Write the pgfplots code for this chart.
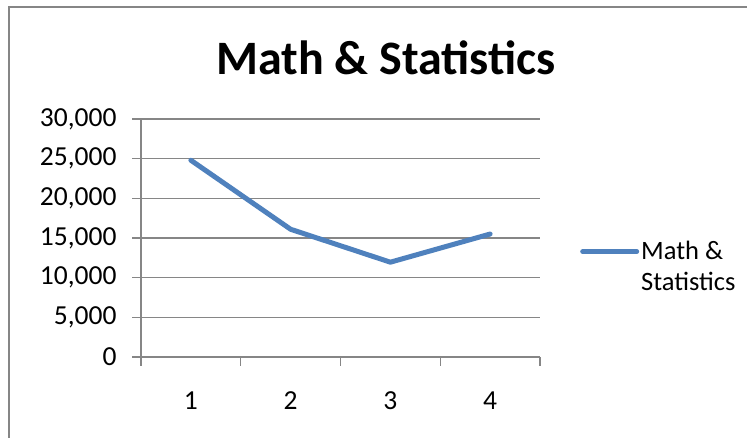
\documentclass[border=0pt]{standalone}
\usepackage{pgfplots}
\pgfplotsset{compat=1.18}
\usepackage{fontspec}
\setmainfont{Carlito}
\definecolor{excelblue}{HTML}{4F81BD}
\definecolor{gridgray}{HTML}{868686}
\begin{document}
\begin{tikzpicture}[x=1pt,y=1pt]
\useasboundingbox (0,0) rectangle (747,438);
\draw[gridgray, line width=1.2pt] (9,-2) -- (9,431) -- (749,431);
\node[anchor=base, font=\fontsize{48}{57}\selectfont\bfseries] at (386,363) {Math \& Statistics};
\begin{axis}[
  at={(141pt,81pt)}, anchor=south west,
  scale only axis, width=399pt, height=238pt,
  xmin=0.5, xmax=4.5, ymin=0, ymax=30000,
  axis x line*=bottom, axis y line*=left,
  axis line style={draw=gridgray, line width=1.2pt, -},
  xtick={1,2,3,4},
  major x tick style={draw=none},
  minor xtick={0.5,1.5,2.5,3.5,4.5},
  minor x tick style={draw=gridgray, line width=1.2pt},
  minor tick length=9pt,
  ytick={0,5000,10000,15000,20000,25000,30000},
  major tick length=9pt,
  tick align=outside,
  y tick style={draw=gridgray, line width=1.2pt},
  ymajorgrids,
  major grid style={draw=gridgray, line width=1.2pt},
  tick label style={font=\fontsize{27.5}{32}\selectfont},
  scaled y ticks=false,
  yticklabel style={/pgf/number format/1000 sep={,}, /pgf/number format/assume math mode=true, xshift=-12pt},
  xticklabel style={/pgf/number format/assume math mode=true, yshift=-22pt},
  clip=false,
  legend style={draw=none, fill=none, at={(1,0.378)}, anchor=west, xshift=40pt,
    inner sep=0pt, font=\fontsize{26.5}{31}\selectfont,
    nodes={align=left, inner sep=2pt}},
  legend cell align=left,
  legend image code/.code={\draw[#1] (0pt,15.5pt) -- (54pt,15.5pt);},
]
\addplot[color=excelblue, line width=5pt, line cap=round, line join=round]
  coordinates {(1,24800) (2,16100) (3,11950) (4,15500)};
\addlegendentry{Math \&\\Statistics}
\end{axis}
\end{tikzpicture}
\end{document}
